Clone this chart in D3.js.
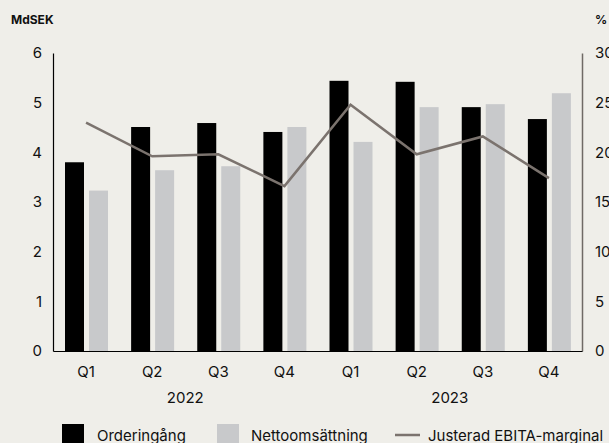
<!DOCTYPE html>
<html>
<head>
<meta charset="utf-8">
<script src="https://cdn.jsdelivr.net/npm/d3@7/dist/d3.min.js"></script>
<style>
  html, body { margin: 0; padding: 0; background: #efeee9; }
  svg { display: block; font-family: Inter, "Noto Sans", sans-serif; }
</style>
</head>
<body>
<svg id="chart" width="609" height="443"></svg>
<script>
// data
const quarters = ["Q1", "Q2", "Q3", "Q4", "Q1", "Q2", "Q3", "Q4"];
const years = ["2022", "2022", "2022", "2022", "2023", "2023", "2023", "2023"];
const orderingang = [3.80, 4.51, 4.59, 4.41, 5.44, 5.42, 4.91, 4.67];
const nettoomsattning = [3.23, 3.64, 3.72, 4.51, 4.21, 4.91, 4.97, 5.19];
const ebitaMarginal = [23.0, 19.6, 19.8, 16.6, 24.8, 19.8, 21.6, 17.4];
const leftTicks = [0, 1, 2, 3, 4, 5, 6];
const rightTicks = [0, 5, 10, 15, 20, 25, 30];
const seriesNames = ["Orderingång", "Nettoomsättning", "Justerad EBITA-marginal"];

const colors = { order: "#000000", netto: "#c8c9cb", line: "#7b736e" };

const svg = d3.select("#chart");
const m = { left: 53, right: 582, top: 53, bottom: 351 };
const fs = 15;

const keys = quarters.map((q, i) => years[i] + " " + q);

const x0 = d3.scaleBand().domain(keys).range([m.left, m.right]).padding(0);
const x1 = d3.scaleBand().domain(["order", "netto"]).range([12, 55]).paddingInner(5 / 24);
const y = d3.scaleLinear().domain([0, 6]).range([m.bottom, m.top]);
const y2 = d3.scaleLinear().domain([0, 30]).range([m.bottom, m.top]);

// bars
const rows = keys.map((k, i) => ({ key: k, order: orderingang[i], netto: nettoomsattning[i] }));
const g = svg.append("g");
g.selectAll("g.grp")
  .data(rows)
  .join("g")
  .attr("class", "grp")
  .attr("transform", d => `translate(${x0(d.key)},0)`)
  .selectAll("rect")
  .data(d => ["order", "netto"].map(s => ({ s, v: d[s] })))
  .join("rect")
  .attr("x", d => x1(d.s))
  .attr("width", x1.bandwidth())
  .attr("y", d => y(d.v))
  .attr("height", d => y(0) - y(d.v))
  .attr("fill", d => colors[d.s]);

// axes
const leftAxis = svg.append("g")
  .attr("transform", `translate(${m.left},0)`)
  .call(d3.axisLeft(y).tickValues(leftTicks).tickFormat(d3.format("d")).tickSize(0).tickPadding(11));
leftAxis.select(".domain").attr("stroke", "#000").attr("stroke-width", 1.2);

const rightAxis = svg.append("g")
  .attr("transform", `translate(${m.right},0)`)
  .call(d3.axisRight(y2).tickValues(rightTicks).tickFormat(d3.format("d")).tickSize(0).tickPadding(13));
rightAxis.select(".domain").attr("stroke", "#6f6a66").attr("stroke-width", 1.5);

const bottomAxis = svg.append("g")
  .attr("transform", `translate(0,${m.bottom})`)
  .call(d3.axisBottom(x0).tickSize(0).tickPadding(15).tickFormat(k => k.split(" ")[1]));
bottomAxis.select(".domain").attr("stroke", "#000").attr("stroke-width", 1.2);

svg.selectAll(".tick text")
  .attr("font-family", "Inter, 'Noto Sans', sans-serif")
  .attr("font-size", fs)
  .attr("fill", "#111");

// year labels
const yearNames = Array.from(new Set(years));
svg.selectAll("text.year")
  .data(yearNames)
  .join("text")
  .attr("class", "year")
  .attr("x", yr => {
    const ks = keys.filter((k, i) => years[i] === yr);
    return (x0(ks[0]) + x0(ks[ks.length - 1]) + x0.bandwidth()) / 2;
  })
  .attr("y", 403)
  .attr("text-anchor", "middle")
  .attr("font-size", fs)
  .attr("fill", "#111")
  .text(d => d);

// line
const line = d3.line()
  .x((d, i) => x0(keys[i]) + x0.bandwidth() / 2)
  .y(d => y2(d));
svg.append("path")
  .datum(ebitaMarginal)
  .attr("d", line)
  .attr("fill", "none")
  .attr("stroke", colors.line)
  .attr("stroke-width", 2.5);

// unit labels
svg.append("text").attr("x", 11).attr("y", 24)
  .attr("font-size", 12).attr("font-weight", 700).attr("fill", "#111").text("MdSEK");
svg.append("text").attr("x", 595).attr("y", 24)
  .attr("font-size", 12).attr("font-weight", 700).attr("fill", "#111").text("%");

// legend
const lg = svg.append("g");
lg.append("rect").attr("x", 62).attr("y", 424).attr("width", 22).attr("height", 22).attr("fill", colors.order);
lg.append("text").attr("x", 97).attr("y", 441).attr("font-size", fs).attr("fill", "#111").text(seriesNames[0]);
lg.append("rect").attr("x", 217).attr("y", 424).attr("width", 22).attr("height", 22).attr("fill", colors.netto);
lg.append("text").attr("x", 251).attr("y", 441).attr("font-size", fs).attr("fill", "#111").text(seriesNames[1]);
lg.append("line").attr("x1", 395).attr("x2", 420).attr("y1", 435).attr("y2", 435)
  .attr("stroke", colors.line).attr("stroke-width", 2.5);
lg.append("text").attr("x", 428).attr("y", 441).attr("font-size", fs).attr("fill", "#111").text(seriesNames[2]);
</script>
</body>
</html>
